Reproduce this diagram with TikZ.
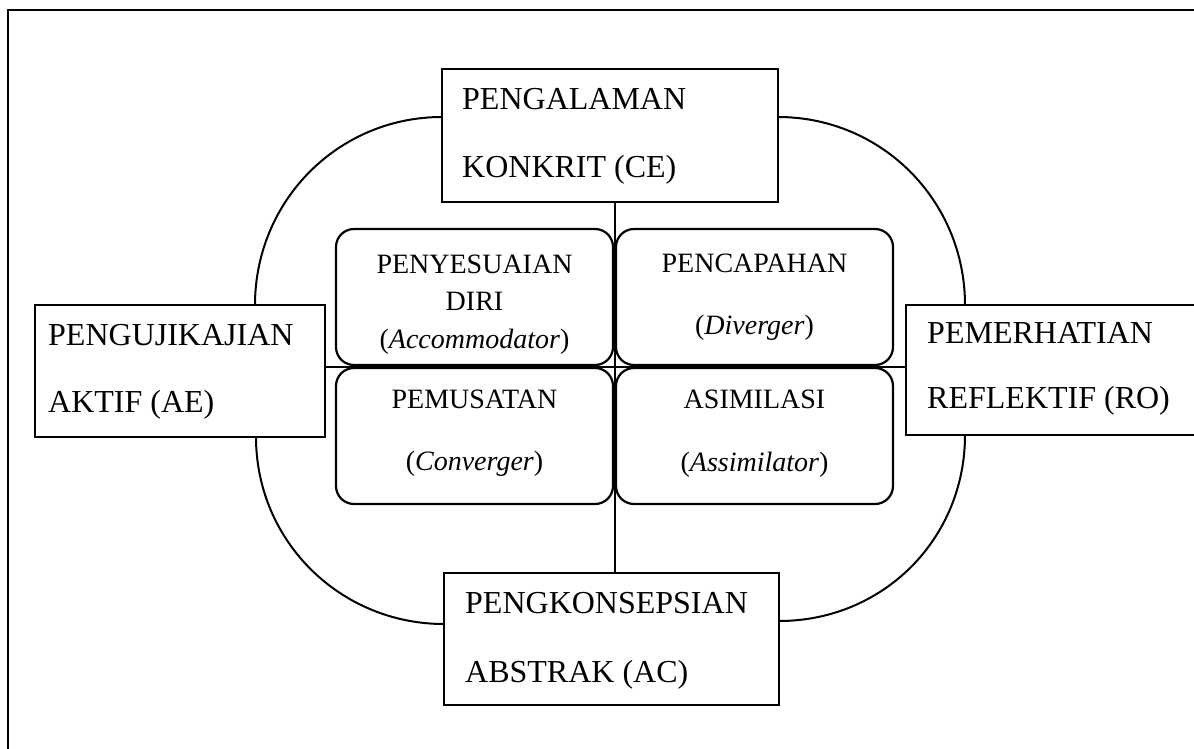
\documentclass[tikz,border=0pt]{standalone}
\usepackage{fontspec}
\setmainfont{Liberation Serif}
\begin{document}
\begin{tikzpicture}[x=1pt,y=-1pt,
  bigbox/.style={draw,line width=2.4pt,rectangle,inner sep=0pt},
  roundbox/.style={draw,line width=2.2pt,rectangle,rounded corners=18pt,inner sep=0pt,minimum width=277pt,minimum height=136pt},
  bigtext/.style={anchor=base west,inner sep=0pt,font=\fontsize{32}{38}\selectfont},
  smalltext/.style={anchor=base,inner sep=0pt,font=\fontsize{28}{34}\selectfont},
  cycle/.style={line width=2pt},
  link/.style={line width=2pt},
  frame/.style={line width=2.6pt}]
\useasboundingbox (0,0) rectangle (1194,749);
% frame (top and left edges visible)
\draw[frame] (8,749) -- (8,10) -- (1194,10);
% outer boxes
\node[bigbox,minimum width=336pt,minimum height=133pt] (CE) at (610,135.5) {};
\node[bigbox,minimum width=290pt,minimum height=132pt] (AE) at (180,371) {};
\node[bigbox,minimum width=300pt,minimum height=130pt] (RO) at (1056,370) {};
\node[bigbox,minimum width=335pt,minimum height=132pt] (AC) at (611.5,639) {};
% inner rounded boxes
\node[roundbox] (TL) at (474.5,297) {};
\node[roundbox] (TR) at (754.5,297) {};
\node[roundbox] (BL) at (474.5,436) {};
\node[roundbox] (BR) at (754.5,436) {};
% centre cross
\coordinate (c) at (614.5,367);
\draw[link] (CE.south -| c) -- (AC.north -| c);
\draw[link] (AE.east |- c) -- (RO.west |- c);
% cycle arcs
\coordinate (a1) at (442,117);
\coordinate (a2) at (255,305);
\coordinate (b1) at (778,117);
\coordinate (b2) at (965,305);
\coordinate (d1) at (256,437);
\coordinate (d2) at (444,624);
\coordinate (e1) at (965,435);
\coordinate (e2) at (779,621);
\draw[cycle] (a1) .. controls +(-104,0) and +(0,-104) .. (a2);
\draw[cycle] (b1) .. controls +(104,0) and +(0,-104) .. (b2);
\draw[cycle] (d1) .. controls +(0,104) and +(-104,0) .. (d2);
\draw[cycle] (e1) .. controls +(0,104) and +(104,0) .. (e2);
% texts of outer boxes
\node[bigtext] (ce1) at (462,110) {PENGALAMAN};
\node[bigtext] (ce2) at (462,177) {KONKRIT (CE)};
\node[bigtext] (ae1) at (48,345) {PENGUJIKAJIAN};
\node[bigtext] (ae2) at (48,412) {AKTIF (AE)};
\node[bigtext] (ro1) at (927,343) {PEMERHATIAN};
\node[bigtext] (ro2) at (927,408) {REFLEKTIF (RO)};
\node[bigtext] (ac1) at (465,613) {PENGKONSEPSIAN};
\node[bigtext] (ac2) at (465,682) {ABSTRAK (AC)};
% texts of inner boxes
\node[smalltext] (tl1) at (474.5,273) {PENYESUAIAN};
\node[smalltext] (tl2) at (474.5,310) {DIRI};
\node[smalltext] (tl3) at (474.5,348) {(\textit{Accommodator})};
\node[smalltext] (tr1) at (754.5,272) {PENCAPAHAN};
\node[smalltext] (tr2) at (754.5,334) {(\textit{Diverger})};
\node[smalltext] (bl1) at (474.5,408) {PEMUSATAN};
\node[smalltext] (bl2) at (474.5,470) {(\textit{Converger})};
\node[smalltext] (br1) at (754.5,408) {ASIMILASI};
\node[smalltext] (br2) at (754.5,471) {(\textit{Assimilator})};
\end{tikzpicture}
\end{document}
